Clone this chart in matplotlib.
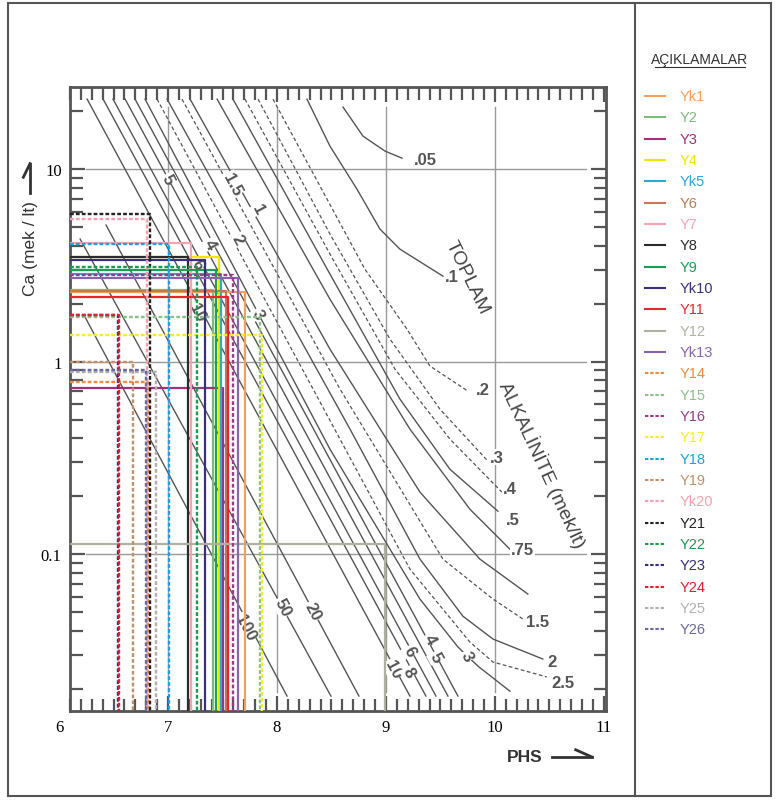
import matplotlib
matplotlib.use("Agg")
import matplotlib.pyplot as plt
from matplotlib.lines import Line2D
from matplotlib.ticker import FixedLocator, NullFormatter

# ---- sample points (Ca in mek/lt, pHs) ----
sample_names = ["Yk1", "Y2", "Y3", "Y4", "Yk5", "Y6", "Y7", "Y8", "Y9", "Yk10", "Y11", "Y12", "Yk13",
                "Y14", "Y15", "Y16", "Y17", "Y18", "Y19", "Yk20", "Y21", "Y22", "Y23", "Y24", "Y25", "Y26"]
sample_colors = ["#f5a05a", "#7dbb7d", "#a0307a", "#f2e600", "#2aa8d8", "#c07a55", "#f4a3b0",
                 "#2b2b2b", "#1e9e55", "#3a2f7a", "#e8252a", "#b0b0a0", "#8a63b0",
                 "#f08a3c", "#8cc08c", "#9a3a8a", "#f5ee20", "#20a0d8", "#c0906a", "#f4a0b0",
                 "#222222", "#1a9a50", "#332f7a", "#e02028", "#b0b0b0", "#6a68a0"]
sample_ca = [2.30, 2.35, 0.728, 3.49, 2.85, 2.32, 4.13, 3.49, 2.99, 3.37, 2.16, 0.113, 2.72,
             0.783, 1.70, 2.81, 1.37, 4.07, 1.00, 5.50, 5.84, 3.10, 1.74, 1.74, 0.882, 0.90]
sample_phs = [7.71, 7.41, 7.50, 7.47, 7.49, 7.53, 7.21, 7.18, 7.44, 7.34, 7.55, 8.99, 7.64,
              6.82, 7.84, 7.60, 7.86, 7.01, 6.68, 6.81, 6.83, 7.27, 6.54, 6.55, 6.89, 6.80]

# ---- total alkalinity lines ----
alk_names = [".05", ".1", ".2", ".3", ".4", ".5", ".75", "1", "1.5", "2", "2.5", "3",
             "4", "5", "6", "8", "10", "20", "50", "100"]
alk_dashed = [False, False, True, True, True, False, False, False, True, False, True, False,
              False, False, False, False, False, False, False, False]
alk_phs = [
    [8.606, 8.789, 8.991, 9.147],
    [8.275, 8.486, 8.734, 8.945, 9.128, 9.523],
    [7.963, 8.459, 8.807, 9.193, 9.404, 9.752],
    [7.826, 8.486, 9.037, 9.495, 9.936],
    [7.706, 8.486, 9.083, 9.587, 10.064],
    [7.596, 8.486, 9.128, 9.587, 10.028],
    [7.450, 8.486, 9.220, 9.771, 10.156],
    [7.202, 8.486, 9.312, 9.862, 10.303],
    [7.128, 8.578, 9.523, 9.982, 10.257],
    [6.991, 8.670, 9.312, 9.706, 9.982, 10.440],
    [6.899, 8.578, 9.220, 9.771, 9.982, 10.477],
    [6.789, 8.486, 9.312, 9.661, 9.844, 10.138],
    [6.697, 9.661],
    [6.606, 9.569],
    [6.495, 9.459],
    [6.404, 9.367],
    [6.257, 9.220],
    [6.431, 8.752],
    [6.193, 8.495],
    [6.239, 8.092],
]
alk_ca = [
    [21.0, 14.84, 12.41, 11.40],
    [23.1, 13.17, 7.87, 4.88, 3.84, 2.78],
    [23.1, 6.99, 3.02, 1.475, 0.948, 0.703],
    [23.1, 4.60, 1.309, 0.567, 0.304],
    [23.1, 3.62, 0.914, 0.396, 0.210],
    [23.1, 2.85, 0.639, 0.276, 0.167],
    [23.1, 2.11, 0.446, 0.171, 0.1036],
    [23.1, 1.161, 0.210, 0.0942, 0.0620],
    [23.1, 0.72, 0.0942, 0.0584, 0.0460],
    [23.1, 0.446, 0.0942, 0.0476, 0.0362, 0.0285],
    [23.1, 0.396, 0.0836, 0.0349, 0.0275, 0.0230],
    [23.1, 0.351, 0.0584, 0.0329, 0.0262, 0.0194],
    [23.1, 0.0183],
    [23.1, 0.0183],
    [23.1, 0.0183],
    [23.1, 0.0183],
    [23.1, 0.0183],
    [5.12, 0.0183],
    [4.33, 0.0183],
    [1.70, 0.0183],
]

# end labels (horizontal) and on-line labels (rotated)
end_text = [".05", ".1", ".2", ".3", ".4", ".5", ".75", "1.5", "2", "2.5"]
end_phs = [9.358, 9.606, 9.890, 10.018, 10.138, 10.165, 10.257, 10.394, 10.523, 10.624]
end_ca = [11.27, 2.78, 0.72, 0.319, 0.218, 0.152, 0.106, 0.0449, 0.0278, 0.0216]

rot_text = ["100", "50", "20", "10", "8", "6", "5", "4", "3",
            "5", "1.5", "1", "4", "2", "6", "10", "3"]
rot_phs = [7.706, 8.055, 8.330, 9.064, 9.211, 9.220, 9.459, 9.404, 9.743,
           7.0, 7.587, 7.826, 7.385, 7.642, 7.266, 7.266, 7.826]
rot_ca = [0.0418, 0.0531, 0.0506, 0.0253, 0.0244, 0.0313, 0.0292, 0.0362, 0.0295,
          8.87, 8.36, 6.19, 4.08, 4.33, 3.21, 1.81, 1.77]

grid_x = [7, 8, 9, 10]
grid_y = [10, 1, 0.1]

GRAY = "#555555"

fig = plt.figure(figsize=(7.78, 8.03), dpi=100)
ax = fig.add_axes([0.0900, 0.1133, 0.6889, 0.7771])
ax.set_yscale("log")
ax.set_xlim(6.1, 11.02)
ax.set_ylim(0.0153, 26.7)

# grid segments (they stop short of the frame)
for gx in grid_x:
    ax.plot([gx, gx], [0.0192, 21.0], color="#999999", lw=1.0, zorder=1)
for gy in grid_y:
    ax.plot([6.25, 10.84], [gy, gy], color="#999999", lw=1.0, zorder=1)

# alkalinity curves
for xs, ys, dashed in zip(alk_phs, alk_ca, alk_dashed):
    if dashed:
        ax.plot(xs, ys, color=GRAY, lw=0.9, dashes=(3, 2), zorder=2)
    else:
        ax.plot(xs, ys, color=GRAY, lw=1.0, zorder=2)

lab_kw = dict(color="#555555", fontsize=12, fontweight="bold", family="Liberation Sans",
              ha="center", va="center", zorder=3,
              bbox=dict(facecolor="white", edgecolor="none", pad=0.6))
for t, x, y in zip(end_text, end_phs, end_ca):
    ax.text(x, y, t, **lab_kw)
for t, x, y in zip(rot_text, rot_phs, rot_ca):
    ax.text(x, y, t, rotation=-62, **lab_kw)

ax.text(9.75, 2.75, "TOPLAM", rotation=-64, fontsize=14, color="#444444",
        family="Liberation Sans", ha="center", va="center", zorder=3)
ax.text(10.44, 0.294, "ALKALİNİTE (mek/lt)", rotation=-65, fontsize=14, color="#444444",
        family="Liberation Sans", ha="center", va="center", zorder=3)

# sample paths: horizontal from left axis, then down to the bottom axis
x0 = ax.get_xlim()[0]
y0 = ax.get_ylim()[0]
for i, (c, p, col) in enumerate(zip(sample_ca, sample_phs, sample_colors)):
    if i >= 13:
        ax.plot([x0, p, p], [c, c, y0], color=col, lw=1.7, dashes=(1.6, 0.9), zorder=4)
    else:
        ax.plot([x0, p, p], [c, c, y0], color=col, lw=1.6, zorder=4)

# ticks on all four sides, pointing inward
ax.set_xticks([7, 8, 9, 10, 11])
ax.set_xticklabels(["7", "8", "9", "10", "11"])
ax.xaxis.set_minor_locator(FixedLocator([6.1 + 0.1 * k for k in range(50)]))
ax.yaxis.set_major_locator(FixedLocator([0.1, 1, 10]))
ax.set_yticklabels(["0.1", "1", "10"])
ax.yaxis.set_minor_locator(FixedLocator([m * d for d in (0.01, 0.1, 1, 10) for m in range(2, 10)]))
ax.yaxis.set_minor_formatter(NullFormatter())
ax.tick_params(which="both", direction="in", top=True, right=True, color=GRAY, width=1.6)
ax.tick_params(which="major", length=11, labelsize=12, pad=6)
ax.tick_params(which="minor", length=9)
for lab in ax.get_xticklabels() + ax.get_yticklabels():
    lab.set_family("Liberation Serif")
ax.text(6.0, -0.012, "6", transform=ax.get_xaxis_transform(), ha="center", va="top",
        fontsize=12, family="Liberation Serif")
for s in ax.spines.values():
    s.set_color(GRAY)
    s.set_linewidth(2)

# axis titles
fig.text(0.0386, 0.69, "Ca (mek / lt)", rotation=90, ha="center", va="center",
         fontsize=12.5, family="Liberation Sans", color="#333333")
fig.add_artist(Line2D([0.0386, 0.0386], [0.758, 0.795], color="#333333", lw=2))
fig.add_artist(Line2D([0.0386, 0.030], [0.795, 0.778], color="#333333", lw=2))
fig.text(0.675, 0.057, "PHS", ha="center", va="center", fontsize=12.5, fontweight="bold",
         family="Liberation Sans", color="#333333")
fig.add_artist(Line2D([0.710, 0.761], [0.056, 0.056], color="#333333", lw=2))
fig.add_artist(Line2D([0.761, 0.740], [0.056, 0.065], color="#333333", lw=2))

# outer frame and divider
fig.add_artist(plt.Rectangle((0.0103, 0.0075), 0.981, 0.988, transform=fig.transFigure,
                             fill=False, edgecolor=GRAY, lw=1.5))
fig.add_artist(Line2D([0.8162, 0.8162], [0.0075, 0.9955], color=GRAY, lw=1.5))

# legend panel
fig.text(0.8997, 0.925, "AÇIKLAMALAR", ha="center", va="center", fontsize=10,
         family="Liberation Sans", color="#333333")
fig.add_artist(Line2D([0.842, 0.958], [0.915, 0.915], color="#333333", lw=0.8))
for i, (name, col) in enumerate(zip(sample_names, sample_colors)):
    yy = 1 - (97 + 21.33 * i) / 803
    ls = (0, (1.6, 0.9)) if i >= 13 else "-"
    fig.add_artist(Line2D([0.829, 0.855], [yy, yy], color=col, lw=1.5, linestyle=ls))
    fig.text(0.874, yy, name, ha="left", va="center", fontsize=10.5,
             family="Liberation Sans", color=col)

fig.savefig("out.png", dpi=100)
